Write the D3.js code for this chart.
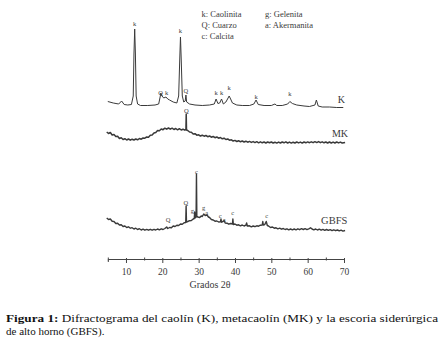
<!DOCTYPE html>
<html>
<head>
<meta charset="utf-8">
<script src="https://cdn.jsdelivr.net/npm/d3@7/dist/d3.min.js"></script>
<style>
  html, body { margin: 0; padding: 0; background: #fff; }
  svg { display: block; }
  text { font-family: "Liberation Serif", "DejaVu Serif", serif; fill: #3a3a3a; }
</style>
</head>
<body>
<svg id="chart" width="443" height="342"></svg>
<script>
// Diffraction patterns: [2θ (degrees), intensity (a.u., stacked)]
const kaolin = [
  [5,157.5],[6.5,156],[8,155],[8.8,158],[9.5,154.5],[10.5,154],[11.5,154.5],
  [12.0,163],[12.2,205],[12.4,230],[12.6,205],[12.8,163],[13.2,155],[14,153.5],
  [16,153.5],[18,154],[19.0,155],[19.4,162],[19.6,166],[19.9,163],[20.4,161],
  [21.0,162],[21.5,160],[22,159],[23,157],[24.0,156],[24.5,163],[24.8,200],
  [25.0,222],[25.2,200],[25.5,163],[25.9,157],[26.3,158],[26.5,164],[26.7,157],
  [27.5,155],[29,154],[31,153.5],[33,154],[34.3,155],[34.8,160],[35.3,155.5],
  [35.8,156],[36.3,160],[36.8,155],[37.5,157],[38.1,161],[38.4,163],[38.8,160],
  [39.3,156],[40.5,154],[42,153.5],[44,153.5],[45.2,155],[45.8,159],[46.4,154.5],
  [48,153.5],[50,153.5],[51,155],[51.5,153.5],[53,153.5],[54.5,155],[55.1,157.5],
  [55.8,155.5],[57,154],[59,153],[60.5,152.5],[62.0,154],[62.4,159],[62.9,153],
  [64,152],[66,152],[68,151.5],[69.8,151.5]
];
const metakaolin = [
  [4.7,127],[5.2,125.5],[5.7,126.5],[6.2,124],[6.7,124.5],[7.2,122.5],[7.7,122.8],
  [8.2,120.5],[8.7,121.2],[9.2,119.5],[9.7,120.3],[10.2,119],[10.7,120],[11.2,118.8],
  [11.7,119.8],[12.2,119],[12.7,120],[13.2,119.2],[13.7,120.5],[14.2,119.8],[14.7,121],
  [15.2,120.8],[15.7,122],[16.2,121.8],[16.7,123.8],[17.2,124],[17.7,126],[18.2,126.5],
  [18.7,128.5],[19.2,128.3],[19.7,130],[20.2,129.3],[20.7,130.8],[21.2,129.8],[21.7,131],
  [22.2,129.8],[22.7,130.8],[23.2,129.5],[23.7,130.5],[24.2,129.2],[24.7,130.3],[25.2,129],
  [25.7,129.8],[26.2,128.8],[26.5,129.5],[26.58,145],[26.66,129],[27,128.5],[27.5,127],
  [28,126.8],[28.5,125],[29,125.3],[29.5,123.8],[30,124.2],[30.5,123],[31,123.8],
  [31.5,122.8],[32,123.5],[32.5,122.3],[33,123],[33.5,121.8],[34,122.5],[34.5,121.3],
  [35,122],[35.5,120.8],[36,121.5],[36.5,120.2],[37,120.8],[37.5,119.5],[38,120],
  [38.5,118.8],[39,119.2],[39.5,118],[40,118.6],[40.5,117.5],[41,118.3],[41.5,117.2],
  [42,118],[42.5,117],[43,117.8],[43.5,116.8],[44,117.6],[44.5,116.6],[45,117.4],
  [45.5,116.4],[46,117.3],[46.5,116.2],[47,117.2],[47.5,116.2],[48,117],[48.5,116],
  [49,117],[49.5,116.2],[50,117],[50.5,116],[51,116.8],[51.5,115.9],[52,116.9],
  [52.5,116],[53,117],[53.5,116.2],[54,117.2],[54.5,116],[55,116.9],[55.5,115.9],
  [56,116.8],[56.5,116],[57,117],[57.5,116.1],[58,116.9],[58.5,115.9],[59,117],
  [59.5,116.2],[60,117.1],[60.5,116.3],[61,117.2],[61.5,116.3],[62,117.3],[62.5,116.4],
  [63,117.4],[63.5,116.3],[64,117.2],[64.5,116.2],[65,117],[65.5,116],[66,117],
  [66.5,116],[67,116.9],[67.5,116],[68,117],[68.5,116.1],[69,116.9],[69.5,116],[70.3,116.6]
];
const slag = [
  [4.7,41],[5.2,39.5],[5.7,40],[6.2,37.8],[6.7,37.5],[7.2,35.5],[7.7,35.8],[8.2,34],
  [8.7,34.3],[9.2,32.5],[9.7,33],[10.2,31.5],[10.7,32.2],[11.2,30.8],[11.7,31.3],[12.2,30],
  [12.7,30.8],[13.2,29.5],[13.7,30.3],[14.2,29],[14.7,29.8],[15.2,28.8],[15.7,29.6],
  [16.2,28.8],[16.7,29.7],[17.2,28.8],[17.7,29.6],[18.2,29],[18.7,30],[19.2,29.2],
  [19.7,30.2],[20.2,29.5],[20.7,30.5],[21.2,32],[21.5,30.5],[22,31.5],[22.5,31.2],
  [23,33],[23.5,32.5],[24,33.8],[24.5,33.5],[25,35],[25.5,34.8],[26,36.2],[26.45,36.5],
  [26.55,53],[26.65,37],[27,37.5],[27.5,38.3],[28,38.5],[28.5,40],[28.8,40.5],[28.9,47],
  [29.0,41],[29.3,42],[29.4,85],[29.5,42.5],[29.8,42],[30.3,41.5],[30.7,43],[31,42.5],
  [31.4,45],[31.8,43.5],[32.3,44],[32.7,42],[33,41.5],[33.5,39.5],[34,39],[34.5,37.8],
  [35,38],[35.5,37],[36.0,37.2],[36.15,40],[36.3,36.8],[36.7,37.5],[37.0,38.5],[37.3,36],
  [37.8,35.8],[38.3,34.8],[38.8,35.5],[39.3,35],[39.42,40],[39.55,34.5],[40,35],
  [40.5,33.8],[41,34.2],[41.5,33.2],[42,34],[42.5,33],[43,33.8],[43.2,36],[43.4,33],
  [44,33.2],[44.5,32.2],[45,33],[45.5,32.3],[46,33.2],[46.5,32.8],[47,33.8],[47.5,34],
  [47.65,37.5],[47.8,34],[48.2,34.5],[48.6,37.5],[48.9,33.5],[49.3,32.8],[49.8,31.5],
  [50.3,32],[50.8,30.8],[51.3,31.2],[51.8,30.2],[52.3,30.8],[52.8,29.8],[53.3,30.5],
  [53.8,29.5],[54.3,30.2],[54.8,29.2],[55.3,30],[55.8,29.2],[56.3,30],[56.8,29.2],
  [57.3,30.2],[57.8,29.3],[58.3,30.3],[58.8,29.5],[59.3,30.4],[59.8,29.4],[60.3,30.2],
  [60.8,31.2],[61.2,30],[61.7,29.2],[62.2,30],[62.7,29],[63.2,29.8],[63.7,28.8],
  [64.2,29.6],[64.7,28.7],[65.2,29.5],[65.7,28.6],[66.2,29.4],[66.7,28.4],[67.2,29.2],
  [67.7,28.3],[68.2,29],[68.7,28.1],[69.2,28.9],[69.7,27.9],[70.3,28.5]
];

const seriesNames = ["K", "MK", "GBFS"];
const seriesData = [kaolin, metakaolin, slag];
// [name, 2θ, intensity] for the label next to each pattern
const seriesLabels = [["K", 69.3, 159.5], ["MK", 68.9, 126], ["GBFS", 67.3, 39]];
const seriesLabelSizes = [10, 10, 10.5];

// Phase markers: [letter, 2θ, intensity]
const phaseMarks = [
  ["k",12.4,235],["k",25.0,228],["Q",19.55,166],["k",21.2,166],["Q",26.5,168.5],
  ["k",34.8,166],["k",36.3,166],["k",38.4,171],["k",45.8,162],["k",55.1,165],
  ["Q",26.6,148],
  ["Q",21.6,39],["Q",26.5,56],["c",29.4,87.5],["g",28.3,48.5],["g",31.4,51],
  ["a",32.2,46],["c",35.9,43],["a",37.0,39],["c",39.4,46.5],["c",48.7,43]
];

const legendLeft = ["k: Caolinita", "Q: Cuarzo", "c:  Calcita"];
const legendRight = ["g: Gelenita", "a: Akermanita"];

const xTicks = d3.range(5, 71, 5);
const xTitle = "Grados 2\u03b8";
const captionBold = "Figura 1:";
const captionLine1 = " Difractograma del caol\u00edn (K), metacaol\u00edn (MK) y la escoria sider\u00fargica";
const captionLine2 = "de alto horno (GBFS).";

const svg = d3.select("#chart");
const x = d3.scaleLinear().domain([5, 70]).range([107.8, 344]);
const y = d3.scaleLinear().domain([0, 250]).range([259, 9]);

const line = d3.line().x(d => x(d[0])).y(d => y(d[1]));
const widths = [1.0, 1.5, 1.4];

svg.append("g").selectAll("path")
  .data(seriesData)
  .join("path")
  .attr("d", line)
  .attr("fill", "none")
  .attr("stroke", "#3a3a3a")
  .attr("stroke-width", (d, i) => widths[i])
  .attr("stroke-linejoin", "round");

svg.append("g").selectAll("text")
  .data(phaseMarks)
  .join("text")
  .attr("x", d => x(d[1]))
  .attr("y", d => y(d[2]))
  .attr("dy", "0.33em")
  .attr("text-anchor", "middle")
  .style("font-size", "6.5px")
  .text(d => d[0]);

svg.append("g").selectAll("text")
  .data(seriesLabels)
  .join("text")
  .attr("x", d => x(d[1]))
  .attr("y", d => y(d[2]))
  .attr("dy", "0.35em")
  .attr("text-anchor", "middle")
  .style("font-size", (d, i) => seriesLabelSizes[i] + "px")
  .text(d => d[0]);

// Legend of crystalline phases
const legend = svg.append("g").style("font-size", "8.5px");
legend.selectAll(".l").data(legendLeft).join("text")
  .attr("x", 201.5).attr("y", (d, i) => 17 + i * 11).text(d => d);
legend.selectAll(".r").data(legendRight).join("text")
  .attr("x", 265).attr("y", (d, i) => 17 + i * 11).text(d => d);

// 2θ axis: ticks every 5°, labels every 10°
const axis = d3.axisBottom(x)
  .tickValues(xTicks)
  .tickSizeOuter(0)
  .tickSize(3)
  .tickFormat(d => d % 10 === 0 ? d : "");
const gx = svg.append("g").attr("transform", "translate(0,259)").call(axis)
  .attr("font-family", "'Liberation Serif', serif");
gx.select(".domain").attr("stroke", "#444").attr("stroke-width", 1);
gx.selectAll(".tick line").attr("stroke", "#444")
  .attr("y1", d => d % 10 === 0 ? -1 : -1.5)
  .attr("y2", d => d % 10 === 0 ? 4 : 1.5);
gx.selectAll(".tick text")
  .attr("y", 9)
  .style("font-size", "9.5px")
  .attr("fill", "#444");

svg.append("text")
  .attr("x", 210).attr("y", 288)
  .attr("text-anchor", "middle")
  .style("font-size", "10px")
  .attr("fill", "#444")
  .text(xTitle);

// Figure caption
const cap = svg.append("g").style("font-size", "11px");
const c1 = cap.append("text").attr("x", 6).attr("y", 321.5)
  .attr("textLength", 432).attr("lengthAdjust", "spacingAndGlyphs");
c1.append("tspan").style("font-weight", "bold").style("fill", "#111").text(captionBold);
c1.append("tspan").style("fill", "#111").text(captionLine1);
cap.append("text").attr("x", 6).attr("y", 334.5).style("fill", "#111").text(captionLine2);
</script>
</body>
</html>
